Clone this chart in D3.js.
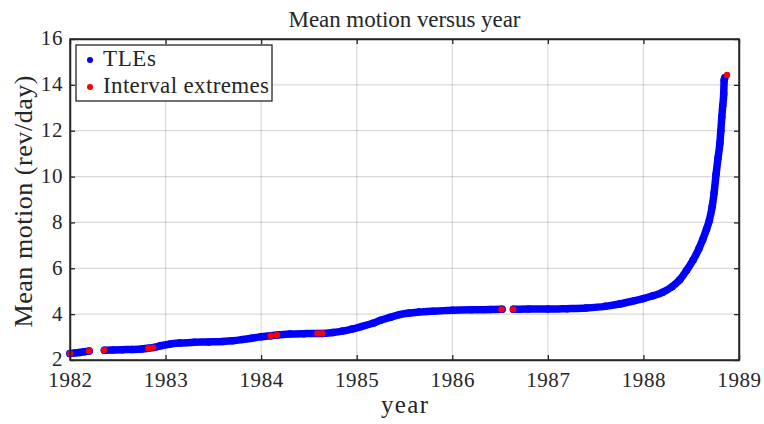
<!DOCTYPE html>
<html>
<head>
<meta charset="utf-8">
<script src="https://cdn.jsdelivr.net/npm/d3@7"></script>
<style>
  body { margin: 0; background: #fff; }
  svg { display: block; }
  text { font-family: "Liberation Serif", "DejaVu Serif", serif; fill: #262626; }
</style>
</head>
<body>
<svg id="chart" width="764" height="424"></svg>
<script>
// TLE epochs (decimal year) and mean motion (rev/day); null marks a gap between intervals
const tleYear = [
  1982.00, 1982.05, 1982.10, 1982.15, 1982.20, null,
  1982.36, 1982.45, 1982.55, 1982.65, 1982.75, 1982.82, 1982.87, 1982.95,
  1983.05, 1983.15, 1983.30, 1983.45, 1983.60, 1983.70, 1983.80, 1983.90,
  1984.00, 1984.10, 1984.17, 1984.30, 1984.45, 1984.59, 1984.64, 1984.75,
  1984.85, 1984.95, 1985.05, 1985.17, 1985.25, 1985.35, 1985.45, 1985.55,
  1985.65, 1985.80, 1986.00, 1986.20, 1986.40, 1986.52, null,
  1986.64, 1986.80, 1987.00, 1987.20, 1987.40, 1987.60, 1987.75, 1987.90,
  1988.00, 1988.10, 1988.20, 1988.30, 1988.38, 1988.45, 1988.52, 1988.58,
  1988.62, 1988.66, 1988.69, 1988.72, 1988.74, 1988.76, 1988.78, 1988.80,
  1988.81, 1988.82, 1988.83, 1988.84, 1988.845, 1988.85
];
const tleMotion = [
  2.28, 2.31, 2.33, 2.36, 2.39, null,
  2.43, 2.44, 2.45, 2.46, 2.48, 2.51, 2.54, 2.62,
  2.70, 2.74, 2.77, 2.79, 2.81, 2.84, 2.89, 2.95,
  3.01, 3.06, 3.09, 3.13, 3.15, 3.16, 3.16, 3.20,
  3.26, 3.35, 3.46, 3.60, 3.73, 3.86, 3.98, 4.05,
  4.09, 4.13, 4.17, 4.19, 4.20, 4.21, null,
  4.21, 4.22, 4.22, 4.24, 4.27, 4.34, 4.44, 4.58,
  4.68, 4.80, 4.95, 5.20, 5.50, 5.90, 6.36, 6.85,
  7.25, 7.70, 8.10, 8.70, 9.30, 10.10, 10.80, 11.45,
  12.00, 12.60, 13.10, 13.60, 14.20, 14.30
];

// Interval extremes
const extremeYear   = [1982.00, 1982.20, 1982.356, 1982.82, 1982.87, 1984.10, 1984.165, 1984.59, 1984.64, 1986.516, 1986.637, 1988.875];
const extremeMotion = [2.28,    2.39,    2.44,     2.51,    2.54,    3.06,    3.09,     3.16,    3.16,    4.21,     4.21,     14.43];

const xTickValues = [1982, 1983, 1984, 1985, 1986, 1987, 1988, 1989];
const yTickValues = [2, 4, 6, 8, 10, 12, 14, 16];

const titleText = "Mean motion versus year";
const xLabelText = "year";
const yLabelText = "Mean motion (rev/day)";
const legendLabels = ["TLEs", "Interval extremes"];
const blue = "#0000ff", red = "#ff0000", axisColor = "#262626";

const svg = d3.select("#chart");
const plot = { left: 70, right: 739, top: 39, bottom: 360 };

const x = d3.scaleLinear().domain([1982, 1989]).range([plot.left, plot.right]);
const y = d3.scaleLinear().domain([2, 16]).range([plot.bottom, plot.top]);

// grid
const grid = svg.append("g").attr("stroke", axisColor).attr("stroke-opacity", 0.17).attr("stroke-width", 1.2);
grid.selectAll(".gx").data(xTickValues.slice(1, -1)).join("line")
  .attr("x1", d => x(d)).attr("x2", d => x(d)).attr("y1", plot.top).attr("y2", plot.bottom);
grid.selectAll(".gy").data(yTickValues.slice(1, -1)).join("line")
  .attr("y1", d => y(d)).attr("y2", d => y(d)).attr("x1", plot.left).attr("x2", plot.right);

// TLE series: dense markers rendered as a thick band plus dots
const pts = tleYear.map((t, i) => ({ t, m: tleMotion[i] }));
const line = d3.line().defined(d => d.t !== null).x(d => x(d.t)).y(d => y(d.m)).curve(d3.curveMonotoneX);
svg.append("path").datum(pts).attr("d", line)
  .attr("fill", "none").attr("stroke", blue).attr("stroke-width", 7.5)
  .attr("stroke-linecap", "round").attr("stroke-linejoin", "round");
svg.append("g").selectAll("circle").data(pts.filter(d => d.t !== null)).join("circle")
  .attr("cx", d => x(d.t)).attr("cy", d => y(d.m)).attr("r", 3.75).attr("fill", blue);

// interval extremes
svg.append("g").selectAll("circle").data(extremeYear.map((t, i) => ({ t, m: extremeMotion[i] }))).join("circle")
  .attr("cx", d => x(d.t)).attr("cy", d => y(d.m)).attr("r", 3.2).attr("fill", red);

// axes (ticks inside, box on all sides)
const tickFont = 21;
const axB = svg.append("g").attr("transform", `translate(0,${plot.bottom})`)
  .call(d3.axisBottom(x).tickValues(xTickValues).tickFormat(d3.format("d")).tickSizeInner(-5).tickSizeOuter(0).tickPadding(12));
const axT = svg.append("g").attr("transform", `translate(0,${plot.top})`)
  .call(d3.axisTop(x).tickValues(xTickValues).tickFormat("").tickSizeInner(-5).tickSizeOuter(0));
const axL = svg.append("g").attr("transform", `translate(${plot.left},0)`)
  .call(d3.axisLeft(y).tickValues(yTickValues).tickFormat(d3.format("d")).tickSizeInner(-5).tickSizeOuter(0).tickPadding(7));
const axR = svg.append("g").attr("transform", `translate(${plot.right},0)`)
  .call(d3.axisRight(y).tickValues(yTickValues).tickFormat("").tickSizeInner(-5).tickSizeOuter(0));
[axB, axT, axL, axR].forEach(g => {
  g.select(".domain").attr("stroke", axisColor).attr("stroke-width", 1.5);
  g.selectAll(".tick line").attr("stroke", axisColor).attr("stroke-width", 1.3);
  g.selectAll("text").attr("font-size", tickFont).attr("font-family", null).attr("fill", axisColor)
    .attr("letter-spacing", 0.6);
});
axL.selectAll("text").attr("dy", "0.28em");
svg.append("rect").attr("x", plot.left).attr("y", plot.top)
  .attr("width", plot.right - plot.left).attr("height", plot.bottom - plot.top)
  .attr("fill", "none").attr("stroke", axisColor).attr("stroke-width", 1.5);

// title and axis labels
svg.append("text").attr("x", (plot.left + plot.right) / 2).attr("y", 27)
  .attr("text-anchor", "middle").attr("font-size", 23)
  .attr("textLength", 232).attr("lengthAdjust", "spacing").text(titleText);
svg.append("text").attr("x", (plot.left + plot.right) / 2).attr("y", 413)
  .attr("text-anchor", "middle").attr("font-size", 25)
  .attr("textLength", 47).attr("lengthAdjust", "spacing").text(xLabelText);
svg.append("text").attr("transform", `translate(32,${(plot.top + plot.bottom) / 2 + 2}) rotate(-90)`)
  .attr("text-anchor", "middle").attr("font-size", 26)
  .attr("textLength", 252).attr("lengthAdjust", "spacing").text(yLabelText);

// legend
const lg = svg.append("g");
lg.append("rect").attr("x", 76).attr("y", 45).attr("width", 196).attr("height", 56)
  .attr("fill", "#fff").attr("stroke", axisColor).attr("stroke-width", 1.3);
const legendColors = [blue, red];
const legendWidths = [53, 166];
legendLabels.forEach((lab, i) => {
  const cy = 60 + i * 27;
  lg.append("circle").attr("cx", 90).attr("cy", cy).attr("r", 3).attr("fill", legendColors[i]);
  lg.append("text").attr("x", 103).attr("y", cy + 5.5).attr("font-size", 23)
    .attr("textLength", legendWidths[i]).attr("lengthAdjust", "spacing").text(lab);
});
</script>
</body>
</html>
